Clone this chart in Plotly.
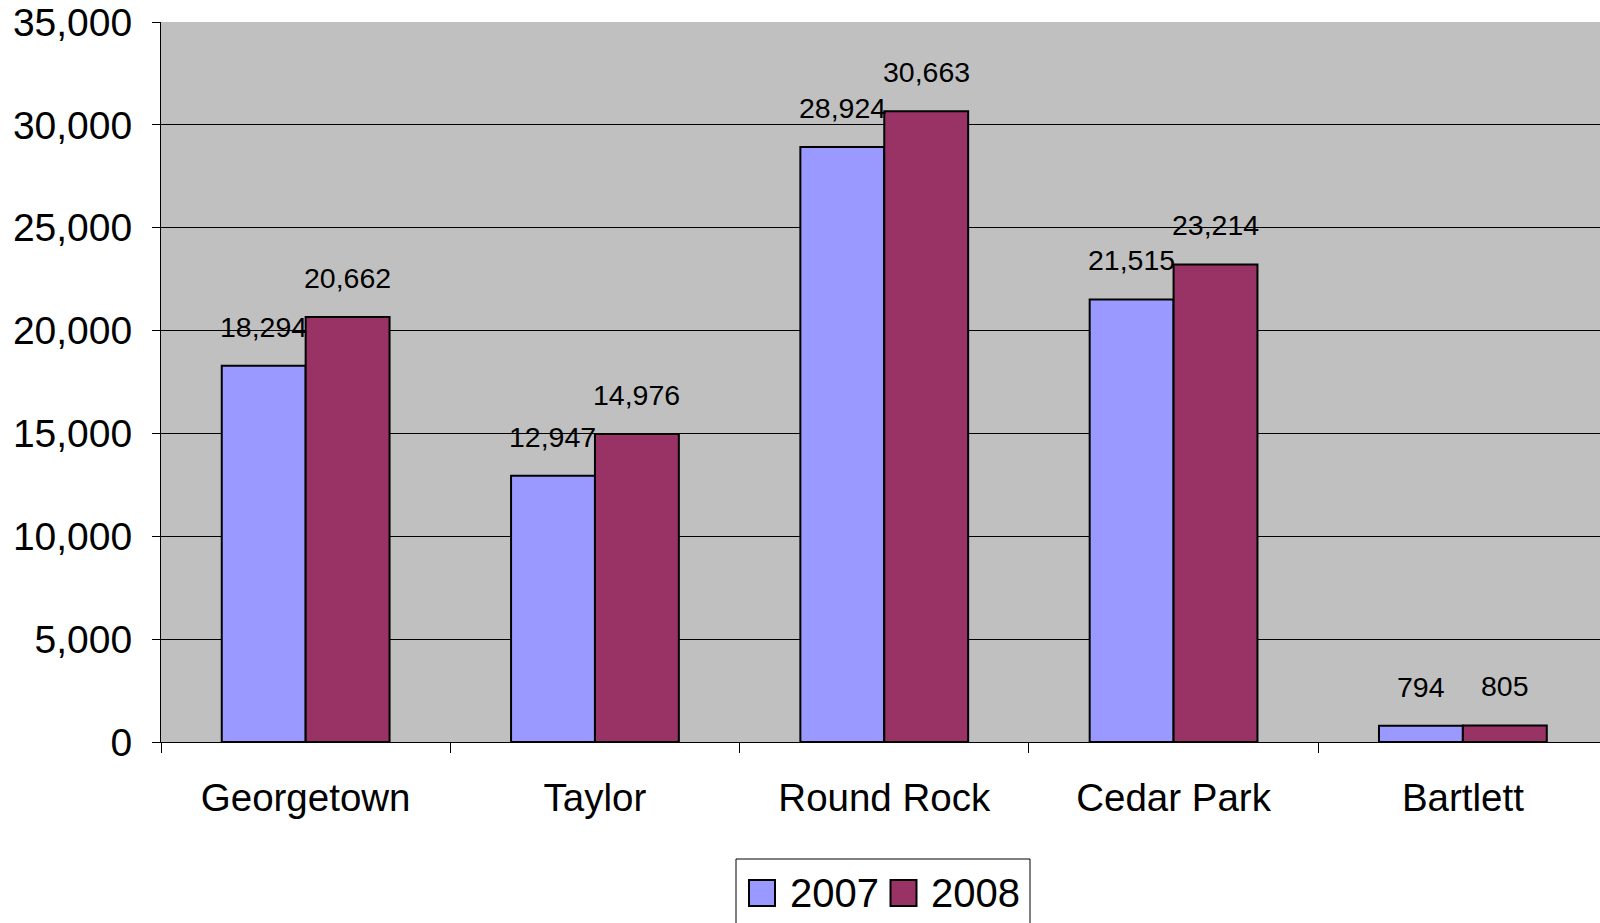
import plotly.graph_objects as go

categories = ["Georgetown", "Taylor", "Round Rock", "Cedar Park", "Bartlett"]
series_names = ["2007", "2008"]
values_2007 = [18294, 12947, 28924, 21515, 794]
values_2008 = [20662, 14976, 30663, 23214, 805]
y_tick_vals = [0, 5000, 10000, 15000, 20000, 25000, 30000, 35000]

colors = ["#9999FF", "#993366"]
FONT = "Liberation Sans, Arial, sans-serif"

# layout constants (pixels)
W, H = 1600, 923
L, T = 161, 22
PLOT_BOTTOM = 742
paper_h = H - T
main_domain_y0 = (H - PLOT_BOTTOM) / paper_h

fig = go.Figure()

# gray plot-area background for the main subplot only
fig.add_shape(type="rect", xref="x domain", yref="y domain",
              x0=0, x1=1, y0=0, y1=1, fillcolor="#C0C0C0",
              line=dict(width=0), layer="below")

for name, vals, col in zip(series_names, [values_2007, values_2008], colors):
    fig.add_trace(go.Bar(
        x=categories, y=vals, name=name, showlegend=False,
        marker=dict(color=col, line=dict(color="black", width=2)),
        xaxis="x", yaxis="y",
    ))

# data labels above bars
bar_offset_px = 42
for sign, vals in zip([-1, 1], [values_2007, values_2008]):
    for c, v in zip(categories, vals):
        fig.add_annotation(
            x=c, y=v, xref="x", yref="y", text=f"{v:,}",
            showarrow=False, xshift=sign * bar_offset_px, yshift=21,
            yanchor="bottom", xanchor="center",
            font=dict(family=FONT, size=28.5, color="black"),
        )

# custom legend (large square swatches) on an auxiliary pixel-scaled axis
leg_marker_x = [762, 903.5]
leg_text_x = [788, 929]
leg_y = 0.333
fig.add_trace(go.Scatter(
    x=leg_marker_x, y=[leg_y, leg_y], mode="markers", showlegend=False,
    hoverinfo="skip", xaxis="x2", yaxis="y2", cliponaxis=False,
    marker=dict(symbol="square", size=26, color=colors,
                line=dict(color="black", width=2)),
))
for name, tx in zip(series_names, leg_text_x):
    fig.add_annotation(
        x=tx, y=leg_y, xref="x2", yref="y2", text=name, showarrow=False,
        xanchor="left", yanchor="middle",
        font=dict(family=FONT, size=40, color="black"),
    )
box_x0 = (736 - L) / (W - L)
box_x1 = (1030 - L) / (W - L)
box_y1 = (H - 859) / paper_h
fig.add_shape(type="rect", xref="paper", yref="paper",
              x0=box_x0, x1=box_x1, y0=-0.05, y1=box_y1,
              line=dict(color="black", width=1), fillcolor="rgba(0,0,0,0)",
              layer="below")

fig.update_layout(
    width=W, height=H,
    margin=dict(l=L, r=0, t=T, b=0, autoexpand=False),
    paper_bgcolor="white", plot_bgcolor="white",
    barmode="group", bargap=0.42, bargroupgap=0,
    font=dict(family=FONT, size=38, color="black"),
    showlegend=False,
    xaxis=dict(
        type="category", range=[-0.5, 4.474], domain=[0, 1],
        tickson="boundaries", ticks="outside", ticklen=10, tickcolor="black",
        showgrid=False, showline=True, linecolor="black", linewidth=1,
        tickfont=dict(family=FONT, size=38.5, color="black"),
        ticklabelstandoff=22, anchor="y", automargin=False,
    ),
    yaxis=dict(
        range=[0, 35000], tickvals=y_tick_vals, tickformat=",",
        domain=[main_domain_y0, 1], anchor="x",
        ticks="outside", ticklen=8, tickcolor="black",
        showgrid=True, gridcolor="black", gridwidth=1,
        showline=True, linecolor="black", linewidth=1,
        zeroline=False, automargin=False,
        tickfont=dict(family=FONT, size=39, color="black"),
        ticklabelstandoff=12,
    ),
    xaxis2=dict(domain=[0, 1], range=[L, W], visible=False, anchor="y2",
                fixedrange=True, automargin=False),
    yaxis2=dict(domain=[0, 0.1], range=[0, 1], visible=False, anchor="x2",
                fixedrange=True, automargin=False),
)

fig.write_html(
    "out.html",
    config={"displayModeBar": False},
    post_script="document.body.style.margin='0';document.body.style.overflow='hidden';",
)
